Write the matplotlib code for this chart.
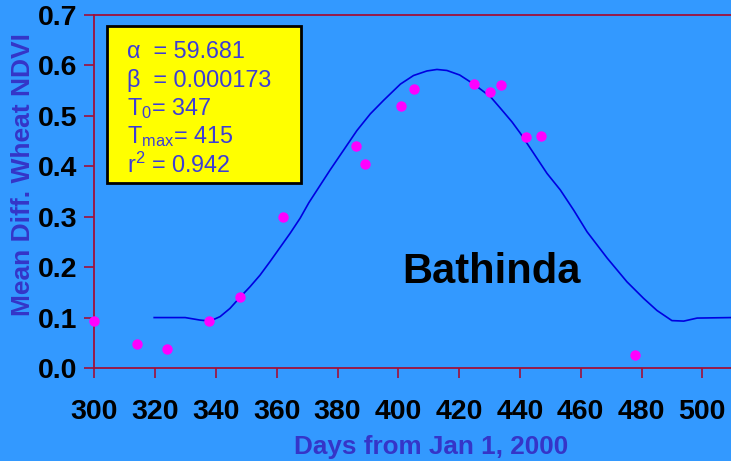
import numpy as np
import matplotlib
matplotlib.use("Agg")
import matplotlib.pyplot as plt
from matplotlib.patches import Rectangle

plt.rcParams["font.family"] = ["Liberation Sans", "DejaVu Sans"]
plt.rcParams["mathtext.fontset"] = "custom"
plt.rcParams["mathtext.rm"] = "Liberation Sans"
plt.rcParams["mathtext.it"] = "Liberation Sans:italic"

# observed mean NDVI difference
obs_days = [300, 314, 324, 337.7, 347.9, 362, 386, 389.1, 401, 405.1,
            425, 430, 433.9, 441.9, 446.9, 477.8]
obs_ndvi = [0.093, 0.048, 0.038, 0.093, 0.141, 0.299, 0.441, 0.405, 0.519, 0.553,
            0.563, 0.548, 0.561, 0.459, 0.461, 0.026]

# fitted curve
fit_days = [319.7, 329.9, 334.8, 338.1, 341.4, 344.6, 347.9, 351.2, 354.5, 357.8,
            361.1, 364.4, 367.7, 370.6, 373.4, 377.6, 382.0, 386.4, 390.8, 395.2,
            400.7, 405.0, 409.4, 412.7, 416.0, 420.2, 424.8, 430.3, 433.6, 437.4,
            440.2, 444.5, 448.9, 453.3, 457.7, 462.1, 468.7, 475.2, 480.7, 485.1,
            490.0, 493.9, 498.3, 509.5]
fit_ndvi = [0.100, 0.100, 0.095, 0.093, 0.102, 0.118, 0.140, 0.161, 0.184, 0.211,
            0.239, 0.267, 0.297, 0.328, 0.354, 0.393, 0.432, 0.471, 0.504, 0.531,
            0.563, 0.580, 0.589, 0.592, 0.590, 0.581, 0.563, 0.538, 0.515, 0.488,
            0.465, 0.426, 0.386, 0.353, 0.313, 0.270, 0.218, 0.171, 0.138, 0.114,
            0.094, 0.093, 0.099, 0.100]

box_lines = [r"α  = 59.681", r"β  = 0.000173", r"T$_0$= 347",
             r"T$_{\mathrm{max}}$= 415", r"r$^2$ = 0.942"]

W, H = 731, 461
bg = "#3399ff"
spine_c = "#a0103a"
label_c = "#3535c8"

fig = plt.figure(figsize=(W / 100, H / 100), dpi=100, facecolor=bg)
ax = fig.add_axes([94.3 / W, 1 - 368 / H, (W - 94.3) / W, 353 / H])
ax.set_facecolor(bg)

ax.plot(fit_days, fit_ndvi, color="#0000e0", lw=1.2, zorder=2)
ax.plot(obs_days, obs_ndvi, "o", color="#ff00ff", ms=7.5, mec="none",
        clip_on=False, zorder=3)

ax.set_xlim(300, 300 + (W - 94.3) / 3.04)
ax.set_ylim(0, 0.7)
ax.set_xticks(np.arange(300, 501, 20))
ax.set_yticks(np.arange(0, 0.71, 0.1))
ax.yaxis.set_major_formatter(matplotlib.ticker.FormatStrFormatter("%.1f"))

for s in ["left", "bottom", "top"]:
    ax.spines[s].set_color(spine_c)
    ax.spines[s].set_linewidth(1.3)
ax.spines["right"].set_visible(False)

ax.tick_params(axis="both", direction="out", length=7, width=1.2, color=spine_c,
               labelsize=20.5, labelcolor="black")
ax.tick_params(axis="x", pad=15)
ax.tick_params(axis="y", pad=5)
for lab in ax.get_xticklabels() + ax.get_yticklabels():
    lab.set_fontweight("bold")

ax.set_xlabel("Days from Jan 1, 2000", fontsize=18.8, fontweight="bold", color=label_c)
ax.xaxis.set_label_coords(0.5285, -0.224)
ax.xaxis.label.set_va("center")
ax.set_ylabel("Mean Diff. Wheat NDVI", fontsize=19, fontweight="bold", color=label_c)
ax.yaxis.set_label_coords(-0.112, 0.547)
ax.yaxis.label.set_va("center")

ax.text(430.7, 0.191, "Bathinda", fontsize=30, fontweight="bold", color="black",
        ha="center", va="center")

# parameter box
fig.add_artist(Rectangle((107 / W, 1 - 183 / H), 194 / W, 157 / H,
                         transform=fig.transFigure, facecolor="#ffff00",
                         edgecolor="black", lw=2, zorder=5))
for i, txt in enumerate(box_lines):
    y = 51.7 + i * 28.3
    fig.text(126.7 / W, 1 - y / H, txt, fontsize=16.8, color="#3d3dd6",
             ha="left", va="center", zorder=6)

fig.savefig("out.png", dpi=100, facecolor=bg)
